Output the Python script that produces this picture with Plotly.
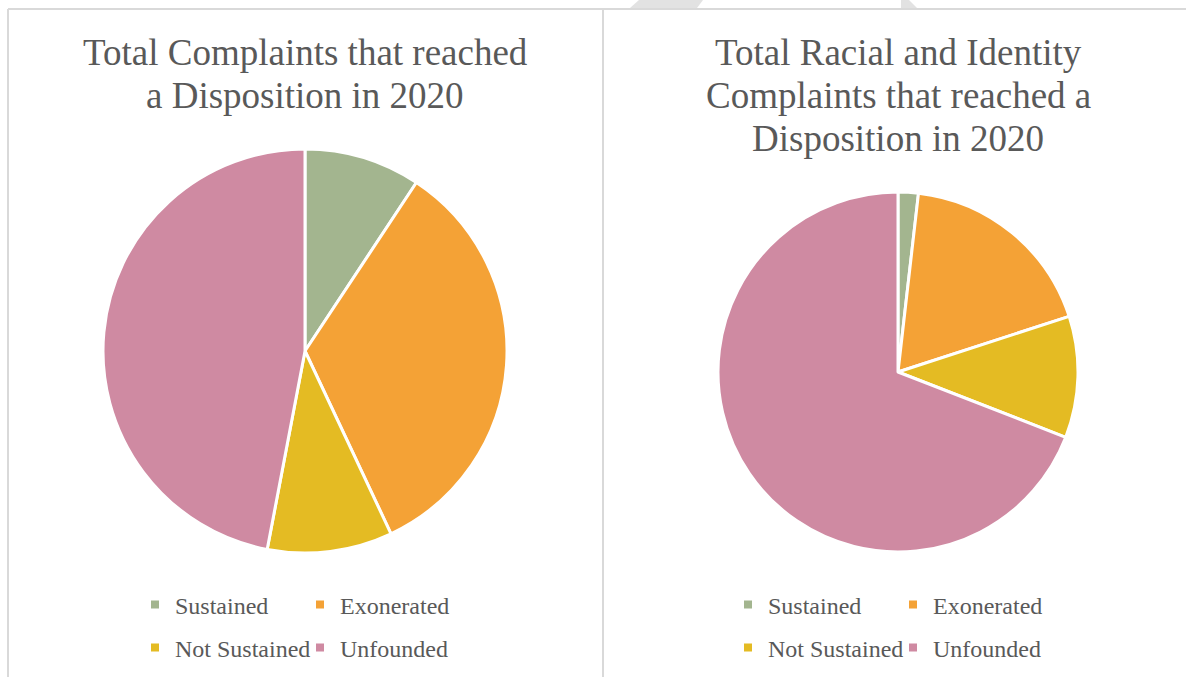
import plotly.graph_objects as go

categories = ["Sustained", "Exonerated", "Not Sustained", "Unfounded"]
total_values = [9.3, 33.7, 10.0, 47.0]
racial_values = [1, 10, 6, 38]
colors = ["#A3B58F", "#F4A236", "#E4BB23", "#CF8AA2"]
title_left_lines = ["Total Complaints that reached", "a Disposition in 2020"]
title_right_lines = ["Total Racial and Identity", "Complaints that reached a", "Disposition in 2020"]

W, H = 1186, 677
FONT = "Liberation Serif"
TXT = "#595959"

def px(x):
    return x / W

def py(y):
    return 1 - y / H

fig = go.Figure()

# Left pie: center (305, 351), r 202
fig.add_trace(go.Pie(
    labels=categories, values=total_values, sort=False, direction="clockwise",
    rotation=0, textinfo="none", hoverinfo="label+percent", showlegend=False,
    marker=dict(colors=colors, line=dict(color="white", width=3)),
    domain=dict(x=[px(305 - 202), px(305 + 202)], y=[py(351 + 202), py(351 - 202)]),
))
# Right pie: center (898, 372), r 180
fig.add_trace(go.Pie(
    labels=categories, values=racial_values, sort=False, direction="clockwise",
    rotation=0, textinfo="none", hoverinfo="label+percent", showlegend=False,
    marker=dict(colors=colors, line=dict(color="white", width=3)),
    domain=dict(x=[px(898 - 180), px(898 + 180)], y=[py(372 + 180), py(372 - 180)]),
))

# Legend entries (rows of two items each, for each chart)
legend_rows = [("legend", 0, 1), ("legend2", 2, 3), ("legend3", 0, 1), ("legend4", 2, 3)]
for lg, a, b in legend_rows:
    for i in (a, b):
        fig.add_trace(go.Scatter(
            x=[None], y=[None], mode="markers", name=categories[i],
            marker=dict(symbol="square", size=8, color=colors[i]),
            legend=lg, showlegend=True, hoverinfo="skip",
        ))

def legend_cfg(x, y):
    return dict(
        x=px(x), y=py(y), xanchor="left", yanchor="middle",
        orientation="h", entrywidth=120, entrywidthmode="pixels",
        font=dict(family=FONT, size=24, color=TXT),
        bgcolor="rgba(0,0,0,0)", itemclick=False, itemdoubleclick=False,
        tracegroupgap=0,
    )

annotations = []
for k, line in enumerate(title_left_lines):
    annotations.append(dict(text=line, x=px(305), y=py(52 + 43 * k), xref="paper", yref="paper",
                            xanchor="center", yanchor="middle", showarrow=False,
                            font=dict(family=FONT, size=37, color=TXT)))
for k, line in enumerate(title_right_lines):
    annotations.append(dict(text=line, x=px(898), y=py(52 + 43 * k), xref="paper", yref="paper",
                            xanchor="center", yanchor="middle", showarrow=False,
                            font=dict(family=FONT, size=37, color=TXT)))

fig.update_layout(
    width=W, height=H,
    margin=dict(l=0, r=0, t=0, b=0),
    paper_bgcolor="white", plot_bgcolor="white",
    xaxis=dict(visible=False), yaxis=dict(visible=False),
    legend=legend_cfg(135, 605),
    legend2=legend_cfg(135, 648),
    legend3=legend_cfg(728, 605),
    legend4=legend_cfg(728, 648),
    annotations=annotations,
    shapes=[
        dict(type="line", xref="paper", yref="paper", x0=px(8), x1=1, y0=py(9), y1=py(9),
             line=dict(color="#D9D9D9", width=2)),
        dict(type="line", xref="paper", yref="paper", x0=px(8), x1=px(8), y0=py(9), y1=0,
             line=dict(color="#D9D9D9", width=2)),
        dict(type="line", xref="paper", yref="paper", x0=px(603), x1=px(603), y0=py(9), y1=0,
             line=dict(color="#D9D9D9", width=2)),
        dict(type="path", xref="paper", yref="paper",
             path=f"M {px(639)} {py(0)} L {px(703)} {py(0)} L {px(697)} {py(8)} L {px(630)} {py(8)} Z",
             fillcolor="#E2E2E2", line=dict(width=0)),
        dict(type="path", xref="paper", yref="paper",
             path=f"M {px(901)} {py(0)} L {px(909)} {py(0)} L {px(917)} {py(8)} L {px(901)} {py(8)} Z",
             fillcolor="#E2E2E2", line=dict(width=0)),
    ],
)

fig.write_html("out.html")
